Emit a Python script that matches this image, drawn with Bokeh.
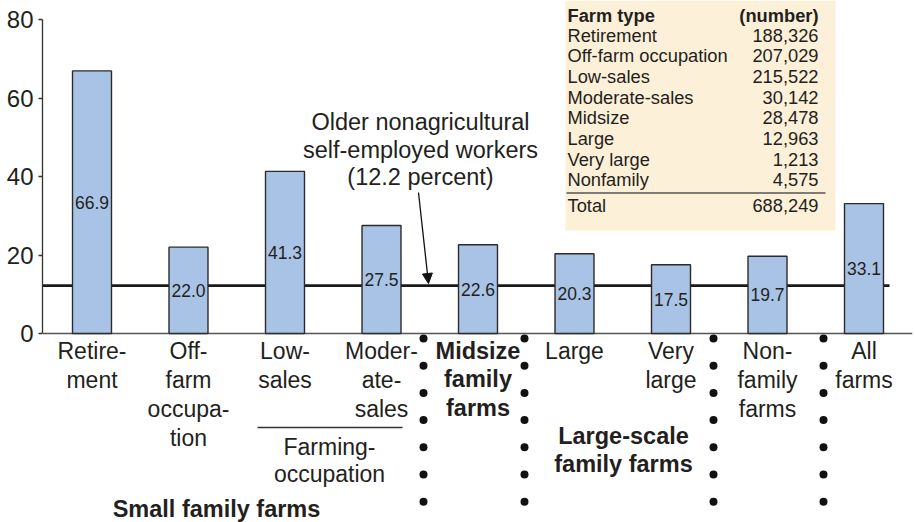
from bokeh.plotting import figure
from bokeh.models import Arrow, NormalHead, FixedTicker
from bokeh.core.properties import value
from bokeh.embed import file_html
from bokeh.resources import INLINE

# ---------------- data ----------------
categories = ["Retirement", "Off-farm occupation", "Low-sales", "Moderate-sales",
              "Midsize", "Large", "Very large", "Nonfamily", "All farms"]
shares = [66.9, 22.0, 41.3, 27.5, 22.6, 20.3, 17.5, 19.7, 33.1]
cat_labels = [["Retire-", "ment"], ["Off-", "farm", "occupa-", "tion"], ["Low-", "sales"],
              ["Moder-", "ate-", "sales"], ["Midsize", "family", "farms"], ["Large"],
              ["Very", "large"], ["Non-", "family", "farms"], ["All", "farms"]]
bold_cats = [4]
y_ticks = [0, 20, 40, 60, 80]
reference_value = 12.2
reference_label = ["Older nonagricultural", "self-employed workers", "(12.2 percent)"]
table_header = ["Farm type", "(number)"]
table_types = ["Retirement", "Off-farm occupation", "Low-sales", "Moderate-sales",
               "Midsize", "Large", "Very large", "Nonfamily"]
table_counts = [188326, 207029, 215522, 30142, 28478, 12963, 1213, 4575]
table_total = 688249

# ---------------- layout helpers (screen px -> data) ----------------
X0, DX, Y0, DY = 91.5, 96.5, 333.0, 3.925
def dx(px):
    return (px - X0) / DX
def dy(py):
    return (Y0 - py) / DY

FONT = "Liberation Sans"
TXT = "#231F20"
W, H = 915, 522
LBL = "23px"
BOLD = "23.5px"

p = figure(width=W, height=H, output_backend="svg", toolbar_location=None,
           x_range=(dx(42), dx(912)), y_range=(dy(H), dy(0)),
           min_border_left=42, min_border_right=3, min_border_top=0, min_border_bottom=0)
p.xaxis.visible = False
p.xgrid.visible = False
p.ygrid.visible = False
p.outline_line_color = None
p.background_fill_color = "white"

ax = p.yaxis[0]
ax.bounds = (0, 80)
ax.ticker = FixedTicker(ticks=y_ticks)
ax.minor_tick_line_color = None
ax.major_tick_out = 4
ax.major_tick_in = 0
ax.major_label_standoff = 5
ax.major_label_text_font = FONT
ax.major_label_text_font_size = "24px"
ax.major_label_text_color = TXT
ax.axis_line_color = "#333333"
ax.axis_line_width = 1.3
ax.major_tick_line_color = "#333333"
ax.major_tick_line_width = 1.3

# table box
p.quad(left=dx(565), right=dx(835), top=dy(0), bottom=dy(230),
       fill_color="#FDF0D8", line_color=None)
p.text(x=[dx(567)], y=[dy(15)], text=[table_header[0]], text_font=value(FONT),
       text_font_size="18.3px", text_font_style="bold", text_color=TXT,
       text_baseline="middle", text_align="left")
p.text(x=[dx(818)], y=[dy(15)], text=[table_header[1]], text_font=value(FONT),
       text_font_size="18.3px", text_font_style="bold", text_color=TXT,
       text_baseline="middle", text_align="right")
row_y = [dy(34.5 + 20.7 * i) for i in range(len(table_types))]
p.text(x=[dx(567)] * len(table_types), y=row_y, text=table_types, text_font=value(FONT),
       text_font_size="18.3px", text_color=TXT, text_baseline="middle", text_align="left")
p.text(x=[dx(818)] * len(table_types), y=row_y, text=[f"{c:,}" for c in table_counts],
       text_font=value(FONT), text_font_size="18.3px", text_color=TXT,
       text_baseline="middle", text_align="right")
p.segment(x0=[dx(566)], y0=[dy(192.5)], x1=[dx(825)], y1=[dy(192.5)],
          line_color="#555555", line_width=1.5)
p.text(x=[dx(567)], y=[dy(205)], text=["Total"], text_font=value(FONT),
       text_font_size="18.3px", text_color=TXT, text_baseline="middle", text_align="left")
p.text(x=[dx(818)], y=[dy(205)], text=[f"{table_total:,}"], text_font=value(FONT),
       text_font_size="18.3px", text_color=TXT, text_baseline="middle", text_align="right")

# reference line
idx = list(range(len(categories)))
p.segment(x0=[dx(42)], y0=[reference_value], x1=[dx(889)], y1=[reference_value],
          line_color="#1a1a1a", line_width=2.6)

# x baseline
p.segment(x0=[dx(42)], y0=[0], x1=[dx(912)], y1=[0], line_color="#555555", line_width=1.5)

# bars
p.vbar(x=idx, top=shares, bottom=0, width=0.404, fill_color="#A9C3E6",
       line_color="#2B2B2B", line_width=1.4)
p.text(x=idx, y=[v / 2 for v in shares], text=[f"{v:.1f}" for v in shares],
       text_font=value(FONT), text_font_size="17.5px", text_color=TXT,
       text_baseline="middle", text_align="center")

# category labels
nx, ny, nt, bx, by, bt = [], [], [], [], [], []
for i, lines in enumerate(cat_labels):
    for j, t in enumerate(lines):
        if i in bold_cats:
            bx.append(i); by.append(dy(350 + 28.5 * j)); bt.append(t)
        else:
            nx.append(i); ny.append(dy(350 + 29 * j)); nt.append(t)
p.text(x=nx, y=ny, text=nt, text_font=value(FONT), text_font_size=LBL,
       text_color=TXT, text_baseline="middle", text_align="center")
p.text(x=bx, y=by, text=bt, text_font=value(FONT), text_font_size=BOLD,
       text_font_style="bold", text_color=TXT, text_baseline="middle", text_align="center")

# group labels
p.segment(x0=[dx(257)], y0=[dy(427)], x1=[dx(402)], y1=[dy(427)],
          line_color="#333333", line_width=1.3)
p.text(x=[dx(329), dx(329)], y=[dy(446), dy(473)], text=["Farming-", "occupation"],
       text_font=value(FONT), text_font_size=LBL, text_color=TXT,
       text_baseline="middle", text_align="center")
p.text(x=[dx(216)], y=[dy(508)], text=["Small family farms"], text_font=value(FONT),
       text_font_size=BOLD, text_font_style="bold", text_color=TXT,
       text_baseline="middle", text_align="center")
p.text(x=[dx(623), dx(623)], y=[dy(435), dy(463)], text=["Large-scale", "family farms"],
       text_font=value(FONT), text_font_size=BOLD, text_font_style="bold", text_color=TXT,
       text_baseline="middle", text_align="center")

# dotted separators
sep_x = [dx(423), dx(524), dx(713), dx(823)]
dot_rows = [dy(338 + 27.2 * k) for k in range(7)]
p.scatter(x=[s for s in sep_x for _ in dot_rows], y=[r for _ in sep_x for r in dot_rows],
          size=8, fill_color="#111111", line_color=None)

# annotation
p.text(x=[dx(420)] * 3, y=[dy(121), dy(149), dy(176)], text=reference_label,
       text_font=value(FONT), text_font_size="23.5px", text_color=TXT,
       text_baseline="middle", text_align="center")
p.add_layout(Arrow(end=NormalHead(size=10, fill_color="#111111", line_color="#111111"),
                   x_start=dx(418), y_start=dy(192), x_end=dx(428), y_end=dy(283),
                   line_color="#111111", line_width=1.3))

open("out.html", "w").write(file_html(p, INLINE))
